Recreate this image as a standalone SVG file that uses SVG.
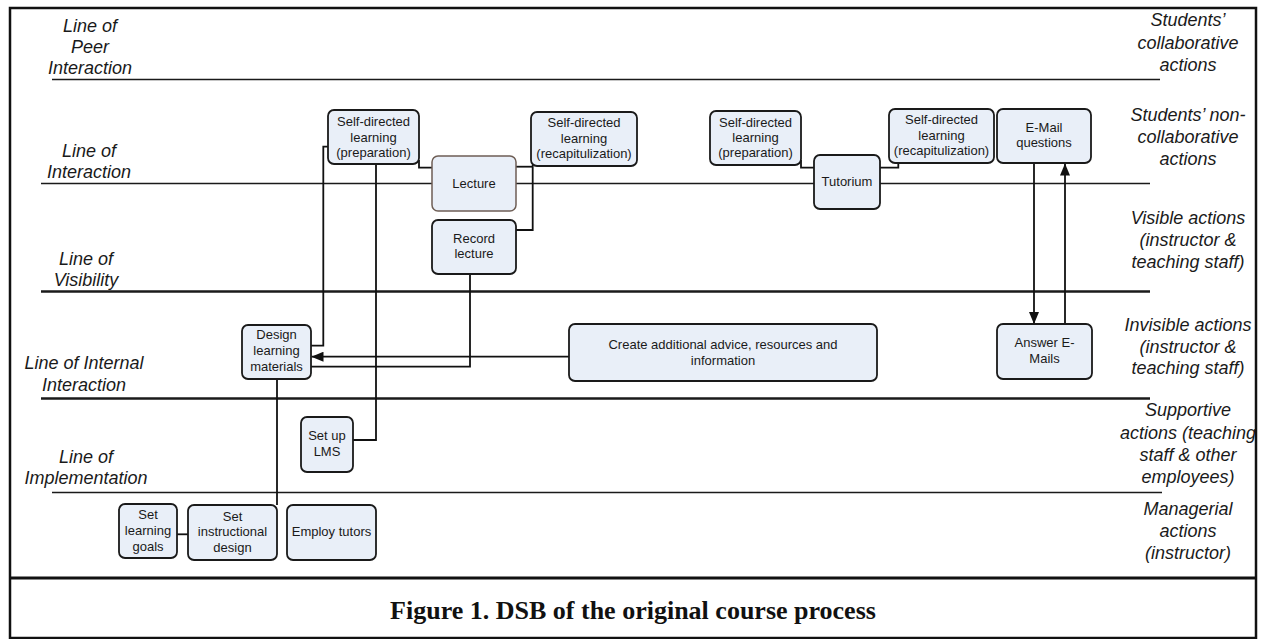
<svg xmlns="http://www.w3.org/2000/svg" width="1264" height="639" viewBox="0 0 1264 639">
<style>
.lab{font-family:"Liberation Sans",Arial,sans-serif;font-style:italic;font-size:18px;fill:#1a1a1a;text-anchor:middle}
.bt{font-family:"Liberation Sans",Arial,sans-serif;font-size:13px;fill:#1a1a1a;text-anchor:middle}
.box{fill:#e9eff8;stroke:#1a1a1a;stroke-width:1.8}
.lane{stroke:#1a1a1a;fill:none}
.con{stroke:#111;stroke-width:1.8;fill:none}
.cap{font-family:"Liberation Serif","Times New Roman",serif;font-weight:bold;font-size:26px;fill:#111;text-anchor:middle}
</style>
<defs>
<marker id="arr" markerUnits="userSpaceOnUse" markerWidth="12" markerHeight="10" refX="12" refY="5" orient="auto">
<path d="M0,0 L12,5 L0,10 z" fill="#111"/>
</marker>
<clipPath id="fr"><rect x="10" y="8" width="1246" height="630"/></clipPath>
</defs>
<rect width="1264" height="639" fill="#fff"/>
<g id="lanes">
<line class="lane" x1="52" y1="79.5" x2="1160" y2="79.5" stroke-width="1.6"/>
<line class="lane" x1="41" y1="183.5" x2="1150" y2="183.5" stroke-width="1.6"/>
<line class="lane" x1="41" y1="291.5" x2="1150" y2="291.5" stroke-width="2.6"/>
<line class="lane" x1="41" y1="398.5" x2="1150" y2="398.5" stroke-width="2.4"/>
<line class="lane" x1="52" y1="492.5" x2="1162" y2="492.5" stroke-width="1.6"/>
</g>
<g id="left-labels">
<text class="lab" x="90" y="32">Line of</text>
<text class="lab" x="90" y="53">Peer</text>
<text class="lab" x="90" y="74">Interaction</text>
<text class="lab" x="89" y="157">Line of</text>
<text class="lab" x="89" y="178">Interaction</text>
<text class="lab" x="86" y="265">Line of</text>
<text class="lab" x="86" y="286">Visibility</text>
<text class="lab" x="84" y="369">Line of Internal</text>
<text class="lab" x="84" y="390.5">Interaction</text>
<text class="lab" x="86" y="463">Line of</text>
<text class="lab" x="86" y="484">Implementation</text>
</g>
<g id="right-labels" clip-path="url(#fr)">
<text class="lab" x="1188" y="26">Students’</text>
<text class="lab" x="1188" y="49">collaborative</text>
<text class="lab" x="1188" y="71">actions</text>
<text class="lab" x="1188" y="121">Students’ non-</text>
<text class="lab" x="1188" y="143">collaborative</text>
<text class="lab" x="1188" y="165">actions</text>
<text class="lab" x="1188" y="224">Visible actions</text>
<text class="lab" x="1188" y="246">(instructor &amp;</text>
<text class="lab" x="1188" y="268">teaching staff)</text>
<text class="lab" x="1188" y="331">Invisible actions</text>
<text class="lab" x="1188" y="353">(instructor &amp;</text>
<text class="lab" x="1188" y="374">teaching staff)</text>
<text class="lab" x="1188" y="416">Supportive</text>
<text class="lab" x="1188" y="439">actions (teaching</text>
<text class="lab" x="1188" y="461">staff &amp; other</text>
<text class="lab" x="1188" y="483">employees)</text>
<text class="lab" x="1188" y="515">Managerial</text>
<text class="lab" x="1188" y="537">actions</text>
<text class="lab" x="1188" y="559">(instructor)</text>
</g>
<g id="connectors">
<path class="con" d="M419,160 V167.7 H432"/>
<path class="con" d="M516,166.7 H532.7"/>
<path class="con" d="M532.7,165 V230 H516"/>
<path class="con" d="M328,146.7 H323.3 V345.7 H311"/>
<path class="con" d="M376,164 V440 H352.7"/>
<path class="con" d="M470,274 V366.7 H311"/>
<path class="con" d="M569,356.7 H311.5" marker-end="url(#arr)"/>
<path class="con" d="M277,379 V505"/>
<path class="con" d="M177,534.3 H188"/>
<path class="con" d="M801,160 V167.7 H814"/>
<path class="con" d="M880,167.7 H898.3 V163"/>
<path class="con" d="M1034,163 V324" marker-end="url(#arr)"/>
<path class="con" d="M1065,324 V163.5" marker-end="url(#arr)"/>
</g>
<g id="sdl-prep-1"><rect class="box" x="328" y="110" width="91" height="54" rx="6"/>
<text class="bt" x="373.5" y="126">Self-directed</text><text class="bt" x="373.5" y="141.7">learning</text><text class="bt" x="373.5" y="157.3">(preparation)</text></g>
<g id="lecture"><rect class="box" x="432" y="156" width="84" height="55" rx="6" style="stroke:#6e5e55;stroke-width:1.5"/>
<text class="bt" x="474" y="187.5">Lecture</text></g>
<g id="sdl-recap-1"><rect class="box" x="531" y="112" width="106" height="54" rx="6"/>
<text class="bt" x="584" y="126.7">Self-directed</text><text class="bt" x="584" y="142.5">learning</text><text class="bt" x="584" y="158.3">(recapitulization)</text></g>
<g id="record-lecture"><rect class="box" x="432" y="220" width="84" height="54" rx="6"/>
<text class="bt" x="474" y="242.7">Record</text><text class="bt" x="474" y="258.3">lecture</text></g>
<g id="sdl-prep-2"><rect class="box" x="710" y="111" width="91" height="54" rx="6"/>
<text class="bt" x="755.5" y="126.7">Self-directed</text><text class="bt" x="755.5" y="141.7">learning</text><text class="bt" x="755.5" y="157.3">(preparation)</text></g>
<g id="tutorium"><rect class="box" x="814" y="155" width="66" height="54" rx="6"/>
<text class="bt" x="847" y="186">Tutorium</text></g>
<g id="sdl-recap-2"><rect class="box" x="889" y="109" width="105" height="54" rx="6"/>
<text class="bt" x="941.5" y="124">Self-directed</text><text class="bt" x="941.5" y="139.5">learning</text><text class="bt" x="941.5" y="155">(recapitulization)</text></g>
<g id="email-questions"><rect class="box" x="997" y="109" width="94" height="54" rx="6"/>
<text class="bt" x="1044" y="131.7">E-Mail</text><text class="bt" x="1044" y="147.3">questions</text></g>
<g id="answer-emails"><rect class="box" x="997" y="324" width="95" height="55" rx="6"/>
<text class="bt" x="1044.5" y="346.7">Answer E-</text><text class="bt" x="1044.5" y="363.3">Mails</text></g>
<g id="create-additional"><rect class="box" x="569" y="324" width="308" height="57" rx="6"/>
<text class="bt" x="723" y="349">Create additional advice, resources and</text><text class="bt" x="723" y="365">information</text></g>
<g id="design-materials"><rect class="box" x="242" y="325" width="69" height="54" rx="6"/>
<text class="bt" x="276.5" y="339.3">Design</text><text class="bt" x="276.5" y="355.3">learning</text><text class="bt" x="276.5" y="371.3">materials</text></g>
<g id="setup-lms"><rect class="box" x="301" y="417" width="52" height="55" rx="6"/>
<text class="bt" x="327" y="440">Set up</text><text class="bt" x="327" y="455.7">LMS</text></g>
<g id="set-goals"><rect class="box" x="119" y="504" width="58" height="54" rx="6"/>
<text class="bt" x="148" y="519">Set</text><text class="bt" x="148" y="534.7">learning</text><text class="bt" x="148" y="550.7">goals</text></g>
<g id="set-design"><rect class="box" x="188" y="505" width="89" height="55" rx="6"/>
<text class="bt" x="232.5" y="520.7">Set</text><text class="bt" x="232.5" y="536">instructional</text><text class="bt" x="232.5" y="551.7">design</text></g>
<g id="employ-tutors"><rect class="box" x="287" y="505" width="89" height="55" rx="6"/>
<text class="bt" x="331.5" y="536">Employ tutors</text></g>
<g id="frame">
<rect x="10" y="8" width="1246" height="630" fill="none" stroke="#111" stroke-width="2.5"/>
<line x1="10" y1="578" x2="1256" y2="578" stroke="#111" stroke-width="3"/>
</g>
<text class="cap" x="633" y="619">Figure 1. DSB of the original course process</text>
</svg>
